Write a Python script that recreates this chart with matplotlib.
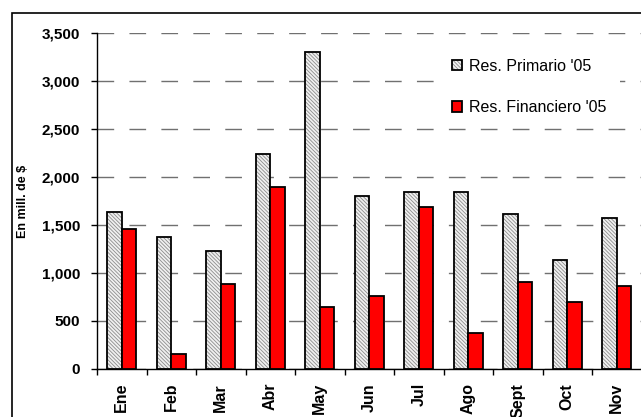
import matplotlib
matplotlib.use("Agg")
import matplotlib.pyplot as plt
from matplotlib.patches import Rectangle
from matplotlib.legend_handler import HandlerTuple
import numpy as np

plt.rcParams['font.family'] = ['Liberation Sans', 'DejaVu Sans']
plt.rcParams['hatch.linewidth'] = 0.6

# datos (en millones de $)
meses = ["Ene", "Feb", "Mar", "Abr", "May", "Jun", "Jul", "Ago", "Sept", "Oct", "Nov"]
primario = [1640, 1370, 1230, 2240, 3305, 1805, 1840, 1845, 1615, 1140, 1570]
financiero = [1455, 160, 890, 1900, 650, 765, 1685, 380, 910, 700, 860]
yticks = [0, 500, 1000, 1500, 2000, 2500, 3000, 3500]

W, H = 641, 417
fig = plt.figure(figsize=(W / 100, H / 100), dpi=100)
ax = fig.add_axes([97 / W, 1 - 369 / H, 544.5 / W, 336 / H])

x = np.arange(len(meses))
ancho = 0.29

# barras rayadas: primero el rayado, despues el borde negro
b1 = ax.bar(x - ancho / 2, primario, ancho, color="#f0f0f0", edgecolor="#8c8c8c",
            hatch="\\" * 9, linewidth=0, zorder=3)
b1e = ax.bar(x - ancho / 2, primario, ancho, fill=False, edgecolor="black",
             linewidth=1.3, zorder=4)
b2 = ax.bar(x + ancho / 2, financiero, ancho, color="#ff0000", edgecolor="black",
            linewidth=1.3, zorder=4)

ax.set_xlim(-0.5, len(meses) - 0.5)
ax.set_ylim(0, 3500)
ax.set_yticks(yticks)
ax.set_yticklabels([f"{v:,}" for v in yticks], fontsize=11, fontweight="bold")

ax.set_xticks(np.arange(-0.5, len(meses), 1))
ax.set_xticklabels([])
ax.set_xticks(x, minor=True)
ax.set_xticklabels(meses, minor=True, rotation=90, fontsize=11.5, fontweight="bold")
ax.tick_params(axis="x", which="minor", length=0, pad=10)
ax.tick_params(axis="x", which="major", length=4, width=1, direction="out")
ax.tick_params(axis="y", length=4, width=1, pad=8)

ax.yaxis.grid(True, color="#707070", linewidth=1, linestyle=(0, (12, 11)), zorder=1)
ax.set_axisbelow(True)

for s in ["top", "right"]:
    ax.spines[s].set_visible(False)
ax.spines["left"].set_linewidth(1)
ax.spines["bottom"].set_linewidth(1)

ax.set_ylabel("En mill. de $", fontsize=9, fontweight="bold")
ax.yaxis.set_label_coords((29 - 97) / 544.5, 0.5)

leg = ax.legend([(b1, b1e), b2], ["Res. Primario '05", "Res. Financiero '05"],
                handler_map={tuple: HandlerTuple(ndivide=1, pad=0)},
                loc="upper left", bbox_to_anchor=(439 / W, 1 - 46 / H),
                bbox_transform=fig.transFigure, fontsize=11.5,
                frameon=True, fancybox=False, borderpad=0.8, borderaxespad=0,
                handlelength=0.65, handleheight=0.65, handletextpad=0.45,
                labelspacing=1.65)
leg.get_frame().set_facecolor("white")
leg.get_frame().set_edgecolor("none")
leg.get_frame().set_alpha(1)
leg.set_zorder(5)

# marco exterior del grafico
fig.patches.append(Rectangle((12 / W, -0.1), 2, 1 - 13 / H + 0.1,
                             transform=fig.transFigure, fill=False,
                             edgecolor="black", linewidth=1.2))

fig.savefig("out.png", dpi=100)
